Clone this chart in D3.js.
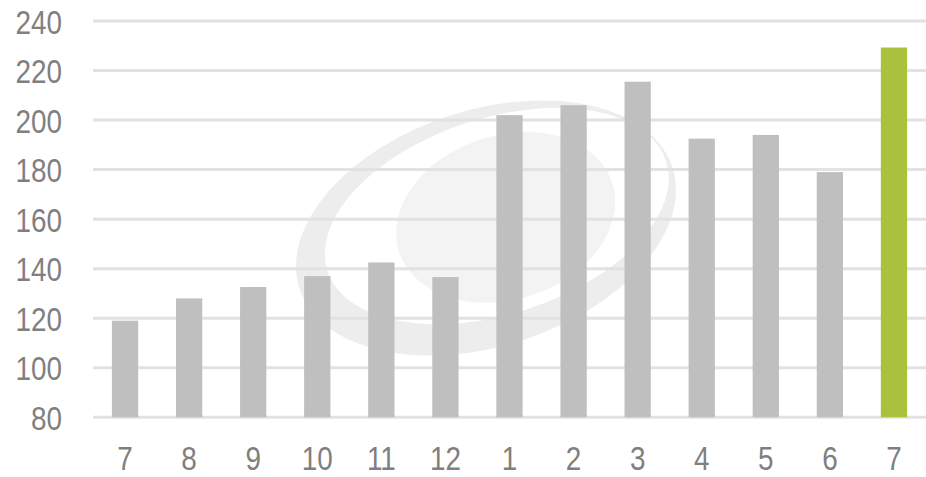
<!DOCTYPE html>
<html>
<head>
<meta charset="utf-8">
<script src="https://cdn.jsdelivr.net/npm/d3@7"></script>
<style>
  html, body { margin: 0; padding: 0; background: #fff; }
  svg { display: block; }
</style>
</head>
<body>
<svg id="chart" width="926" height="477"></svg>
<script>
// Monthly values, July through the following July
const months = ["7", "8", "9", "10", "11", "12", "1", "2", "3", "4", "5", "6", "7"];
const values = [119, 128, 132.6, 137, 142.5, 136.6, 202, 206, 215.5, 192.5, 194, 179, 229.3];
const yTicks = [80, 100, 120, 140, 160, 180, 200, 220, 240];

const W = 926, H = 477;
const margin = { top: 21, right: 0, bottom: 60, left: 93 };

const svg = d3.select("#chart");

const x = d3.scaleBand()
  .domain(d3.range(months.length))
  .range([margin.left, W - margin.right])
  .paddingInner(0.59)
  .paddingOuter(0.295);

const y = d3.scaleLinear()
  .domain([80, 240])
  .range([H - margin.bottom + 0.3, margin.top]);

// faint swirl emblem behind the plot
function ellipsePath(cx, cy, rx, ry) {
  return `M${cx - rx},${cy}a${rx},${ry} 0 1,0 ${2 * rx},0a${rx},${ry} 0 1,0 ${-2 * rx},0Z`;
}
const emblem = svg.append("g").attr("transform", "translate(486,228) rotate(-18)");
emblem.append("path")
  .attr("d", ellipsePath(0, 0, 196, 118) + ellipsePath(14, -8, 178, 98))
  .attr("fill", "#ededed")
  .attr("fill-rule", "evenodd");
emblem.append("path")
  .attr("d", ellipsePath(22, -4, 112, 82))
  .attr("fill", "#f3f3f3");

// horizontal gridlines
svg.append("g")
  .selectAll("line")
  .data(yTicks)
  .join("line")
  .attr("x1", margin.left)
  .attr("x2", W)
  .attr("y1", d => y(d))
  .attr("y2", d => y(d))
  .attr("stroke", "#e2e2e2")
  .attr("stroke-width", 3);

// bars
svg.append("g")
  .selectAll("rect")
  .data(values)
  .join("rect")
  .attr("x", (d, i) => x(i))
  .attr("width", x.bandwidth())
  .attr("y", d => y(d))
  .attr("height", d => y(80) - y(d))
  .attr("fill", (d, i) => i === values.length - 1 ? "#a8c23e" : "#bfbfbf");

// narrow-style labels: regular sans squeezed horizontally
function styleLabels(sel, size) {
  sel.attr("fill", "#7f7f7f")
    .attr("font-family", "Liberation Sans, Arial, sans-serif")
    .attr("font-size", size)
    .attr("dy", "0.358em")
    .attr("transform", "scale(0.82,1)");
}

// y-axis labels
const yAxis = d3.axisLeft(y).tickValues(yTicks).tickSize(0).tickPadding(0);
svg.append("g")
  .attr("transform", "translate(62,0)")
  .call(yAxis)
  .call(g => g.select(".domain").remove())
  .selectAll("text")
  .call(styleLabels, 34);

// x-axis labels
const xAxis = d3.axisBottom(x).tickFormat(i => months[i]).tickSize(0).tickPadding(0);
svg.append("g")
  .attr("transform", `translate(0,457.5)`)
  .call(xAxis)
  .call(g => g.select(".domain").remove())
  .selectAll("text")
  .call(styleLabels, 34);
</script>
</body>
</html>
